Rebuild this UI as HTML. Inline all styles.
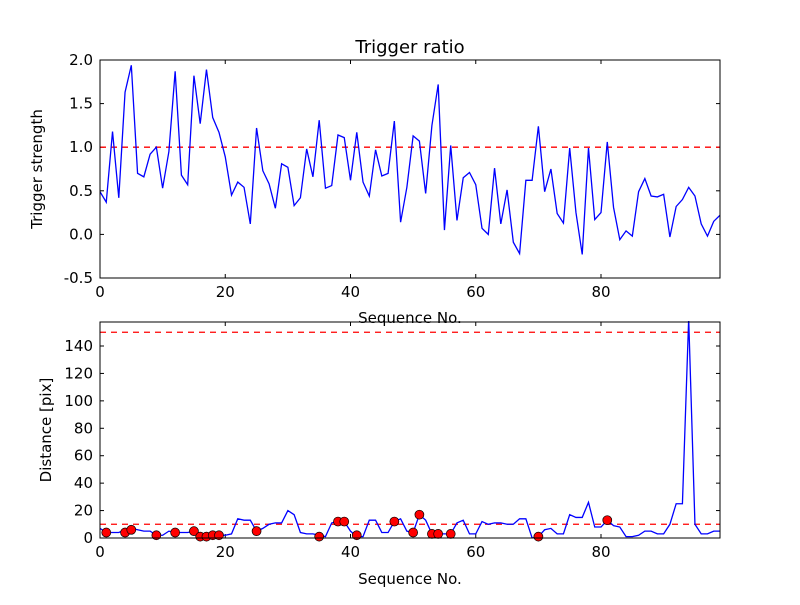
<!DOCTYPE html>
<html><head><meta charset="utf-8"><style>
body{margin:0;background:#fff}
svg text{font-family:"DejaVu Sans","Liberation Sans",sans-serif;fill:#000}
</style></head><body>
<svg id="c" width="800" height="600" xmlns="http://www.w3.org/2000/svg">
<rect width="800" height="600" fill="#fff"/>
</svg>
<script>
const seq=[...Array(100).keys()];
const ratio=[0.49,0.37,1.18,0.42,1.63,1.94,0.70,0.66,0.92,1.0,0.53,0.95,1.87,0.68,0.57,1.82,1.27,1.89,1.34,1.17,0.89,0.45,0.60,0.54,0.12,1.22,0.73,0.58,0.30,0.81,0.77,0.33,0.42,0.98,0.66,1.31,0.53,0.56,1.14,1.11,0.62,1.17,0.60,0.44,0.97,0.67,0.70,1.30,0.14,0.54,1.13,1.07,0.47,1.25,1.72,0.05,1.02,0.16,0.65,0.71,0.57,0.07,0.00,0.76,0.12,0.51,-0.09,-0.22,0.62,0.62,1.24,0.49,0.75,0.24,0.13,0.99,0.25,-0.23,0.99,0.17,0.25,1.06,0.31,-0.06,0.04,-0.02,0.49,0.64,0.44,0.43,0.46,-0.03,0.32,0.40,0.54,0.44,0.12,-0.02,0.15,0.22];
const dist=[7,4,4,4,6,7,6,5,5,2,2,5,4,4,4,5,1,1,2,2,2,3,14,13,13,5,7,10,11,11,20,17,4,3,3,2,1,11,12,12,5,1,1,13,13,4,4,12,14,5,4,17,13,3,3,3,3,11,13,3,3,12,10,11,11,10,10,14,14,0,1,6,7,3,3,17,15,15,26,8,8,13,9,8,1,1,2,5,5,3,3,10,25,25,160,10,3,3,5,5];
const outIdx=[1,4,5,9,12,15,16,17,18,19,25,35,38,39,41,47,50,51,53,54,56,70,81];
const outVal=[4,4,6,2,4,5,1,1,2,2,5,1,12,12,2,12,4,17,3,3,3,1,13];
const xTicks=[0,20,40,60,80];
const topTicks=[2.0,1.5,1.0,0.5,0.0,-0.5];
const botTicks=[0,20,40,60,80,100,120,140];
const NS="http://www.w3.org/2000/svg",svg=document.getElementById('c');
function mk(t,a,txt,p){const e=document.createElementNS(NS,t);for(const k in a)e.setAttribute(k,a[k]);if(txt!=null)e.textContent=txt;(p||svg).appendChild(e);return e;}
const L=100,R=720;
const sx=v=>L+v*(R-L)/99;
function panel(top,bot,ymin,ymax,ticks,fmt,name){
 const sy=v=>bot-(v-ymin)*(bot-top)/(ymax-ymin);
 const g=mk('g',{});
 
 
 mk('defs',{}).innerHTML=`<clipPath id="cl${name}"><rect x="${L}" y="${top-1}" width="${R-L}" height="${bot-top+1}"/></clipPath>`;
 xTicks.forEach(t=>{const x=sx(t);mk('line',{x1:x,x2:x,y1:bot,y2:bot-4,stroke:'#000'},null,g);mk('line',{x1:x,x2:x,y1:top,y2:top+4,stroke:'#000'},null,g);
  const tx=mk('text',{x:x,y:bot+19,'text-anchor':'middle','font-size':15},t,g);});
 ticks.forEach(t=>{const y=sy(t);mk('line',{x1:L,x2:L+4,y1:y,y2:y,stroke:'#000'},null,g);mk('line',{x1:R,x2:R-4,y1:y,y2:y,stroke:'#000'},null,g);
  const tx=mk('text',{x:L-7,y:y+5,'text-anchor':'end','font-size':15},fmt(t),g);});
 return {sy,g,clip:`url(#cl${name})`};
}
const A=panel(60,278,-0.5,2.0,topTicks,t=>t.toFixed(1),'top-panel');
let th=mk('line',{x1:L,x2:R,y1:A.sy(1),y2:A.sy(1),stroke:'#f00','stroke-width':1.3,'stroke-dasharray':'6,5'});

let pl=mk('polyline',{points:seq.map(i=>sx(i)+','+A.sy(ratio[i])).join(' '),fill:'none',stroke:'#00f','stroke-width':1.3,'clip-path':A.clip});

mk('rect',{x:L,y:60,width:R-L,height:218,fill:'none',stroke:'#000'});
mk('text',{x:410,y:53,'text-anchor':'middle','font-size':18},'Trigger ratio');
mk('text',{x:410,y:323,'text-anchor':'middle','font-size':15},'Sequence No.');
mk('text',{x:42,y:169,'text-anchor':'middle','font-size':15,transform:'rotate(-90 42 169)'},'Trigger strength');
const B=panel(322,538,0,157.5,botTicks,t=>t,'bottom-panel');
[10,150].forEach(v=>{const l=mk('line',{x1:L,x2:R,y1:B.sy(v),y2:B.sy(v),stroke:'#f00','stroke-width':1.3,'stroke-dasharray':'6,5'});
 });
let bl=mk('polyline',{points:seq.map(i=>sx(i)+','+B.sy(dist[i])).join(' '),fill:'none',stroke:'#00f','stroke-width':1.3,'clip-path':B.clip});

outIdx.forEach((ix,k)=>{const c=mk('circle',{cx:sx(ix),cy:B.sy(outVal[k]),r:4.5,fill:'#f00',stroke:'#000','stroke-width':0.7});
 });
mk('rect',{x:L,y:322,width:R-L,height:216,fill:'none',stroke:'#000'});
mk('text',{x:410,y:584,'text-anchor':'middle','font-size':15},'Sequence No.');
mk('text',{x:51,y:430,'text-anchor':'middle','font-size':15,transform:'rotate(-90 51 430)'},'Distance [pix]');
</script>
</body></html>
